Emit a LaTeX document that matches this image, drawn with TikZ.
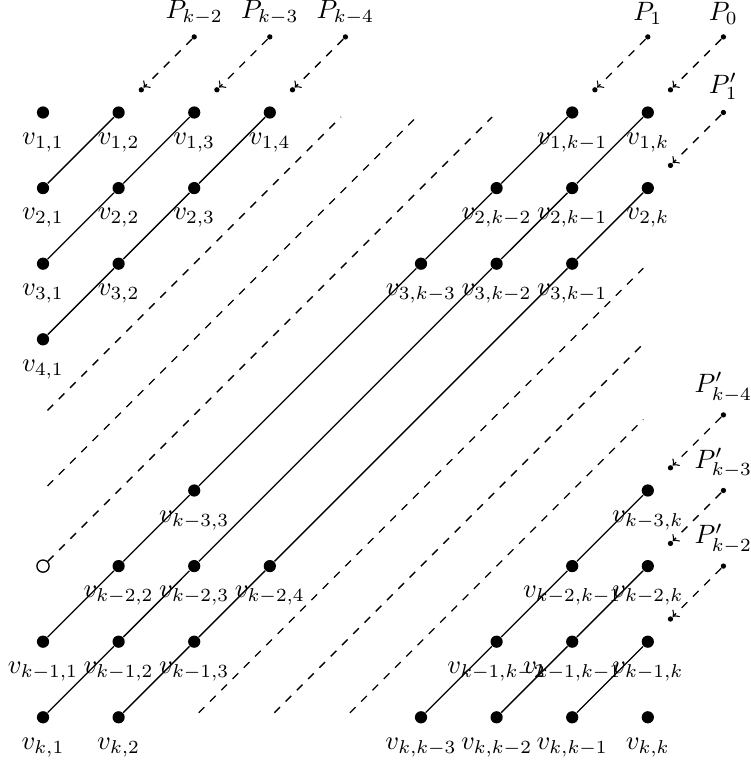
\documentclass[tikz,border=0pt]{standalone}
\begin{document}
\begin{tikzpicture}[
  vtx/.style={circle,fill,inner sep=0pt,minimum size=4.6pt},
  hol/.style={circle,draw,fill=white,inner sep=0pt,minimum size=4.6pt,line width=0.5pt},
  pdot/.style={circle,fill,inner sep=0pt,minimum size=2pt},
  edge/.style={line width=0.5pt},
  dl/.style={dashed,line width=0.5pt,shorten <=2.4pt,shorten >=2.4pt},
  parr/.style={dashed,->,line width=0.5pt},
  every label/.style={label distance=1.6pt}
]
\useasboundingbox (-0.569,1.488) rectangle (9.365,-8.565);
% vertices: column/row/label
\foreach \c/\r/\lab in {
  0/0/{1,1}, 1/0/{1,2}, 2/0/{1,3}, 3/0/{1,4}, 7/0/{1,k-1}, 8/0/{1,k},
  0/1/{2,1}, 1/1/{2,2}, 2/1/{2,3}, 6/1/{2,k-2}, 7/1/{2,k-1}, 8/1/{2,k},
  0/2/{3,1}, 1/2/{3,2}, 5/2/{3,k-3}, 6/2/{3,k-2}, 7/2/{3,k-1},
  0/3/{4,1},
  2/5/{k-3,3}, 8/5/{k-3,k},
  1/6/{k-2,2}, 2/6/{k-2,3}, 3/6/{k-2,4}, 7/6/{k-2,k-1}, 8/6/{k-2,k},
  0/7/{k-1,1}, 1/7/{k-1,2}, 2/7/{k-1,3}, 6/7/{k-1,k-2}, 7/7/{k-1,k-1}, 8/7/{k-1,k},
  0/8/{k,1}, 1/8/{k,2}, 5/8/{k,k-3}, 6/8/{k,k-2}, 7/8/{k,k-1}, 8/8/{k,k}}
  {\node[vtx,label=below:{$v_{\lab}$}] (n\c\r) at (\c,-\r) {};}
\node[hol] (n06) at (0,-6) {};
% grid coordinates for dashed diagonals
\coordinate (g04) at (0,-4); \coordinate (g40) at (4,0);
\coordinate (g05) at (0,-5); \coordinate (g50) at (5,0);
\coordinate (g60) at (6,0);
\coordinate (g28) at (2,-8); \coordinate (g82) at (8,-2);
\coordinate (g38) at (3,-8); \coordinate (g83) at (8,-3);
\coordinate (g48) at (4,-8); \coordinate (g84) at (8,-4);
% solid diagonals
\draw[edge] (n01) -- (n10);
\draw[edge] (n02) -- (n11) -- (n20);
\draw[edge] (n03) -- (n12) -- (n21) -- (n30);
\draw[edge] (n07) -- (n16) -- (n25) -- (n52) -- (n61) -- (n70);
\draw[edge] (n08) -- (n17) -- (n26) -- (n62) -- (n71) -- (n80);
\draw[edge] (n18) -- (n27) -- (n36) -- (n72) -- (n81);
\draw[edge] (n58) -- (n67) -- (n76) -- (n85);
\draw[edge] (n68) -- (n77) -- (n86);
\draw[edge] (n78) -- (n87);
% dashed diagonals
\draw[dl] (g04) -- (g40);
\draw[dl] (g05) -- (g50);
\draw[dl,shorten <=0pt] (n06) -- (g60);
\draw[dl] (g28) -- (g82);
\draw[dl] (g38) -- (g83);
\draw[dl] (g48) -- (g84);
% path arrows
\foreach \nm/\x/\y/\lab in {
  a/2/1/{P_{k-2}}, b/3/1/{P_{k-3}}, c/4/1/{P_{k-4}},
  d/8/1/{P_1}, e/9/1/{P_0}, f/9/0/{P'_1},
  g/9/-4/{P'_{k-4}}, h/9/-5/{P'_{k-3}}, i/9/-6/{P'_{k-2}}}
{
  \node[pdot,label={[label distance=0pt]above:{$\lab$}}] (s\nm) at (\x,\y) {};
  \node[pdot] (t\nm) at ({\x-0.7},{\y-0.7}) {};
  \draw[parr] (s\nm) -- (t\nm);
}
\end{tikzpicture}
\end{document}
